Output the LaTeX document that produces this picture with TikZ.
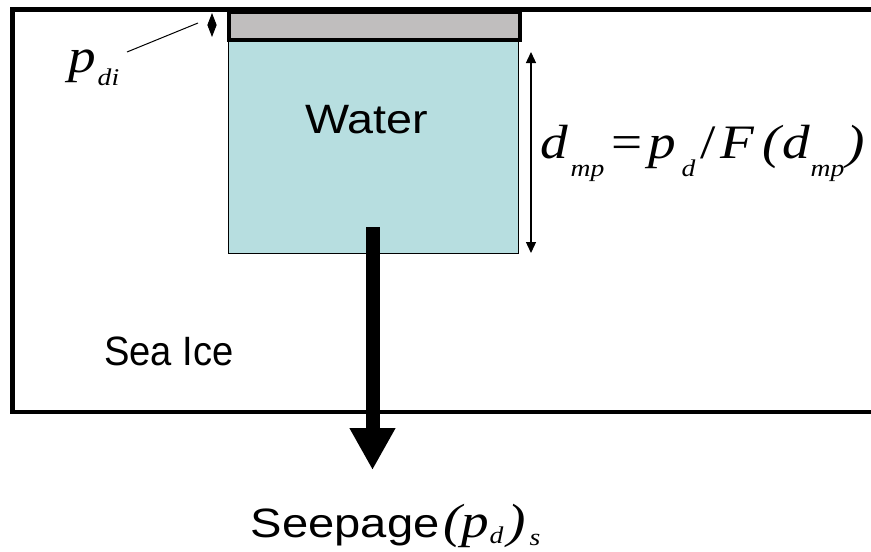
\documentclass[tikz,border=0pt]{standalone}
\usepackage{fontspec}
\usepackage{graphicx}
\setmainfont{Liberation Sans}
\newfontfamily\tms{Liberation Serif}
\usetikzlibrary{arrows.meta}
\definecolor{waterblue}{RGB}{183,222,224}
\definecolor{capgrey}{RGB}{192,190,190}
% piece placed at a horizontal offset, stretched like the reference
\newcommand\pc[3]{\rlap{\hspace{#1pt}\raisebox{-#2pt}{\scalebox{1.15}[1]{#3}}}}
\newcommand\bigit[1]{{\fontsize{48}{48}\selectfont\tms\itshape #1}}
\newcommand\bigup[1]{{\fontsize{48}{48}\selectfont\tms #1}}
\newcommand\smit[1]{{\fontsize{24}{24}\selectfont\tms\itshape #1}}
\tikzset{
  sans/.style={font=\fontsize{41}{41}\selectfont, inner sep=0pt, anchor=base west},
  mathlbl/.style={inner sep=0pt, anchor=base west},
}
\begin{document}
\begin{tikzpicture}[x=1pt,y=-1pt]
\useasboundingbox (0,0) rectangle (871,552);
\fill[white] (0,0) rectangle (871,552);
% sea ice box (right side runs off the picture)
\draw[line width=4.5pt] (890,9.5) -- (12.5,9.5) -- (12.5,412) -- (890,412);
% water body
\node[draw, line width=1.2pt, fill=waterblue, minimum width=290pt, minimum height=216pt,
      anchor=north west, inner sep=0pt] (water) at (228,37) {};
% grey cap
\node[draw, line width=4pt, fill=capgrey, minimum width=291pt, minimum height=28pt,
      anchor=north west, inner sep=0pt] (cap) at (227,10) {};
% labels
\node[sans, xscale=1.14] (wlbl) at (305,133) {Water};
\node[sans, xscale=0.93] (ilbl) at (104,365) {Sea Ice};
% depth arrow
\coordinate (dtop) at (531,52);
\coordinate (dbot) at (531,253);
\draw[line width=1.3pt, {Triangle[length=11pt,width=10pt]}-{Triangle[length=11pt,width=10pt]}] (dtop) -- (dbot);
\node[mathlbl] (form) at (540,158) {%
  \pc{0}{0}{\bigit{d}}%
  \pc{30}{18}{\smit{mp}}%
  \pc{71}{0}{\bigup{=}}%
  \pc{108}{0}{\bigit{p}}%
  \pc{141}{18}{\smit{d}}%
  \pc{160}{0}{\bigup{/}}%
  \pc{180}{0}{\bigit{F}}%
  \pc{222}{0}{\bigit{(}}%
  \pc{242}{0}{\bigit{d}}%
  \pc{270}{18}{\smit{mp}}%
  \pc{306}{0}{\bigit{)}}};
% pond-depth ice marker
\coordinate (ptop) at (212,13);
\coordinate (pbot) at (212,37);
\draw[line width=1pt, {Triangle[length=12pt,width=9pt]}-{Triangle[length=12pt,width=9pt]}] (ptop) -- (pbot);
\node[mathlbl] (pdi) at (68,72) {\pc{0}{0}{\bigit{p}}\pc{29}{13}{\smit{di}}};
\coordinate (lead) at (198,23);
\draw[line width=1pt] (127,52) -- (lead);
% seepage arrow
\coordinate (s1) at (372.5,227);
\coordinate (s2) at (372.5,470);
\draw[line width=14pt, -{Triangle[length=42pt,width=43pt]}] (s1) -- (s2);
\node[mathlbl] (seep) at (250,537) {%
  \rlap{\scalebox{1.15}[1]{\fontsize{41}{41}\selectfont Seepage}}%
  \pc{193}{0}{\bigit{(}}%
  \pc{211}{0}{\bigit{p}}%
  \pc{239}{6}{\smit{d}}%
  \pc{257}{0}{\bigit{)}}%
  \pc{279}{8}{\smit{s}}};
\end{tikzpicture}
\end{document}
